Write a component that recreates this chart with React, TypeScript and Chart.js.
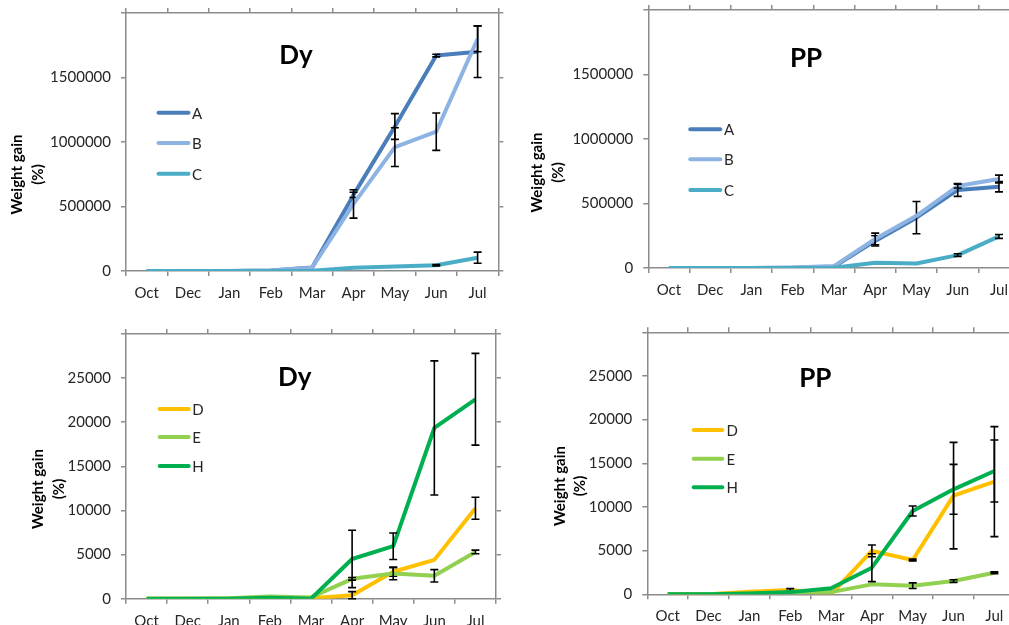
import React, { useEffect, useRef } from 'react';
import { Chart, registerables } from 'chart.js';

Chart.register(...registerables);

// ---------- data ----------
const months = ['Oct', 'Dec', 'Jan', 'Feb', 'Mar', 'Apr', 'May', 'Jun', 'Jul'];

const namesABC = ['A', 'B', 'C'];
const namesDEH = ['D', 'E', 'H'];

const ticksABC = [0, 500000, 1000000, 1500000, 2000000];
const ticksDEH = [0, 5000, 10000, 15000, 20000, 25000, 30000];

// Dy, A/B/C
const dyA = [0, 0, 0, 3000, 28000, 590000, 1120000, 1670000, 1700000];
const dyAErr = [0, 0, 0, 0, 0, 20000, 100000, 10000, 200000];
const dyB = [0, 0, 0, 3000, 25000, 520000, 960000, 1080000, 1800000];
const dyBErr = [0, 0, 0, 0, 0, 110000, 150000, 145000, 100000];
const dyC = [0, 0, 0, 0, 2000, 25000, 35000, 45000, 103000];
const dyCErr = [0, 0, 0, 0, 0, 0, 0, 5000, 43000];

// PP, A/B/C
const ppA = [0, 0, 0, 2000, 10000, 210000, 390000, 605000, 630000];
const ppAErr = [0, 0, 0, 0, 0, 40000, 125000, 50000, 40000];
const ppB = [0, 0, 0, 3000, 15000, 225000, 405000, 635000, 690000];
const ppBErr = [0, 0, 0, 0, 0, 45000, 0, 15000, 30000];
const ppC = [0, 0, 0, 0, 2000, 40000, 35000, 100000, 245000];
const ppCErr = [0, 0, 0, 0, 0, 0, 0, 10000, 15000];

// Dy, D/E/H
const dyD = [0, 0, 0, 100, 50, 400, 3050, 4400, 10250];
const dyDErr = [0, 0, 0, 0, 0, 400, 500, 0, 1250];
const dyE = [0, 0, 50, 250, 150, 2250, 2850, 2600, 5300];
const dyEErr = [0, 0, 0, 0, 0, 150, 700, 700, 200];
const dyH = [0, 0, 0, 100, 0, 4500, 5950, 19350, 22600];
const dyHErr = [0, 0, 0, 0, 0, 3250, 1500, 7600, 5200];

// PP, D/E/H
const ppD = [0, 0, 300, 500, 0, 4970, 3930, 11300, 12900];
const ppDErr = [0, 0, 0, 150, 0, 670, 100, 6100, 6300];
const ppE = [0, 0, 50, 150, 250, 1140, 990, 1520, 2470];
const ppEErr = [0, 0, 0, 0, 0, 0, 320, 150, 100];
const ppH = [0, 0, 100, 250, 690, 3050, 9540, 12020, 14120];
const ppHErr = [0, 0, 0, 0, 0, 1600, 570, 2860, 3550];

// ---------- styles ----------
const colorsABC = ['#4A7EBB', '#8DB3E2', '#4BACC6'];
const colorsDEH = ['#FFC000', '#92D050', '#00B050'];
const axisColor = '#8c8c8c';
const textColor = '#262626';
const FONT = 'Lato';

type Panel = {
  key: string;
  left: number; top: number; width: number; height: number;
  plot: { l: number; t: number; r: number; b: number };
  title: string; titleX: number; titleY: number;
  names: string[]; colors: string[];
  values: number[][]; errors: number[][];
  yTicks: number[];
  legend: { x1: number; x2: number; tx: number; ys: number[] };
  yTitle: { xs: number[]; y: number };
};

const panels: Panel[] = [
  {
    key: 'p1', left: 0, top: 0, width: 520, height: 305,
    plot: { l: 126, t: 13, r: 498.3, b: 271 },
    title: 'Dy', titleX: 296, titleY: 63.5,
    names: namesABC, colors: colorsABC,
    values: [dyA, dyB, dyC], errors: [dyAErr, dyBErr, dyCErr],
    yTicks: ticksABC,
    legend: { x1: 156.5, x2: 190.5, tx: 192, ys: [112.7, 143, 173.7] },
    yTitle: { xs: [17, 38], y: 174.5 },
  },
  {
    key: 'p2', left: 510, top: 0, width: 530, height: 305,
    plot: { l: 648.3, t: 10, r: 1019.6, b: 268 },
    title: 'PP', titleX: 806, titleY: 66.7,
    names: namesABC, colors: colorsABC,
    values: [ppA, ppB, ppC], errors: [ppAErr, ppBErr, ppCErr],
    yTicks: ticksABC,
    legend: { x1: 688.3, x2: 722.3, tx: 724, ys: [129.3, 159.3, 190] },
    yTitle: { xs: [537.5, 558.5], y: 172.5 },
  },
  {
    key: 'p3', left: 0, top: 310, width: 520, height: 330,
    plot: { l: 126, t: 334, r: 496, b: 598.7 },
    title: 'Dy', titleX: 294.7, titleY: 386,
    names: namesDEH, colors: colorsDEH,
    values: [dyD, dyE, dyH], errors: [dyDErr, dyEErr, dyHErr],
    yTicks: ticksDEH,
    legend: { x1: 157.7, x2: 190.7, tx: 192.3, ys: [409, 437, 466] },
    yTitle: { xs: [38.3, 58.8], y: 489 },
  },
  {
    key: 'p4', left: 510, top: 310, width: 530, height: 330,
    plot: { l: 647.3, t: 332.3, r: 1014.8, b: 594.3 },
    title: 'PP', titleX: 815.3, titleY: 386.7,
    names: namesDEH, colors: colorsDEH,
    values: [ppD, ppE, ppH], errors: [ppDErr, ppEErr, ppHErr],
    yTicks: ticksDEH,
    legend: { x1: 691.7, x2: 724.3, tx: 726.5, ys: [430, 458.7, 487.3] },
    yTitle: { xs: [560, 580], y: 486 },
  },
];

function decor(p: Panel) {
  return {
    id: 'decor_' + p.key,
    afterDatasetDraw(chart: any, args: any) {
      const i = args.index;
      const errs = p.errors[i];
      const vals = p.values[i];
      const meta = chart.getDatasetMeta(i);
      const ys = chart.scales.y;
      const ctx = chart.ctx;
      ctx.save();
      ctx.strokeStyle = '#000';
      ctx.lineWidth = 1.6;
      meta.data.forEach((pt: any, j: number) => {
        const e = errs[j];
        if (!e) return;
        const x = pt.x;
        const y1 = ys.getPixelForValue(vals[j] + e);
        const y2 = ys.getPixelForValue(Math.max(0, vals[j] - e));
        ctx.beginPath();
        ctx.moveTo(x, y1);
        ctx.lineTo(x, y2);
        ctx.moveTo(x - 4, y1);
        ctx.lineTo(x + 4, y1);
        ctx.moveTo(x - 4, y2);
        ctx.lineTo(x + 4, y2);
        ctx.stroke();
      });
      ctx.restore();
    },
    afterDraw(chart: any) {
      const ctx = chart.ctx;
      const ox = p.left, oy = p.top;
      ctx.save();
      // title
      ctx.fillStyle = '#000';
      ctx.font = `bold 26px ${FONT}`;
      ctx.textAlign = 'center';
      ctx.textBaseline = 'alphabetic';
      ctx.fillText(p.title, p.titleX - ox, p.titleY - oy);
      // legend
      p.names.forEach((n, i) => {
        const y = p.legend.ys[i] - oy;
        ctx.strokeStyle = p.colors[i];
        ctx.lineWidth = 4;
        ctx.lineCap = 'round';
        ctx.beginPath();
        ctx.moveTo(p.legend.x1 - ox + 2, y);
        ctx.lineTo(p.legend.x2 - ox - 2, y);
        ctx.stroke();
        ctx.fillStyle = textColor;
        ctx.font = `15px ${FONT}`;
        ctx.textAlign = 'left';
        ctx.textBaseline = 'middle';
        ctx.fillText(n, p.legend.tx - ox, y + 1);
      });
      // y axis title
      const lines = ['Weight gain', '(%)'];
      ctx.fillStyle = '#000';
      ctx.font = `bold 15px ${FONT}`;
      ctx.textAlign = 'center';
      ctx.textBaseline = 'middle';
      lines.forEach((t, i) => {
        ctx.save();
        ctx.translate(p.yTitle.xs[i] - ox, p.yTitle.y - oy);
        ctx.rotate(-Math.PI / 2);
        ctx.fillText(t, 0, 0);
        ctx.restore();
      });
      ctx.restore();
    },
  };
}

function makeChart(canvas: HTMLCanvasElement, p: Panel) {
  const yW = p.plot.l - p.left;
  const y2W = p.left + p.width - p.plot.r;
  const x2H = p.plot.t - p.top;
  const xH = p.top + p.height - p.plot.b;
  const yMax = p.yTicks[p.yTicks.length - 1];
  const gridCommon = { drawOnChartArea: false, drawTicks: true, tickLength: 5, color: axisColor, lineWidth: 1.5 };
  const border = { display: true, color: axisColor, width: 1.5 };
  const setTicks = (s: any) => { s.ticks = p.yTicks.map((v) => ({ value: v })); };
  const font = { family: FONT, size: 15 };
  const noPad = (s: any) => { s.paddingTop = 0; s.paddingBottom = 0; s.paddingLeft = 0; s.paddingRight = 0; };
  return new Chart(canvas, {
    type: 'line',
    data: {
      labels: months,
      datasets: p.names.map((n, i) => ({
        label: n,
        data: p.values[i],
        borderColor: p.colors[i],
        backgroundColor: p.colors[i],
        borderWidth: 4,
        pointRadius: 0,
        pointHoverRadius: 0,
        tension: 0,
        fill: false,
        borderJoinStyle: 'round',
        order: p.names.length - 1 - i,
        xAxisID: 'x',
        yAxisID: 'y',
      })),
    },
    options: {
      responsive: false,
      animation: false,
      events: [],
      layout: { padding: 0 },
      plugins: { legend: { display: false }, tooltip: { enabled: false }, title: { display: false } },
      scales: {
        x: {
          type: 'category', position: 'bottom', offset: true,
          grid: { ...gridCommon, offset: true }, border,
          ticks: { font, color: textColor, padding: 8, maxRotation: 0, autoSkip: false },
          afterFit: (s: any) => { s.height = xH; noPad(s); },
        },
        x2: {
          type: 'category', position: 'top', offset: true,
          grid: { ...gridCommon, offset: true }, border,
          ticks: { display: false },
          afterFit: (s: any) => { s.height = x2H; noPad(s); },
        },
        y: {
          type: 'linear', position: 'left', min: 0, max: yMax,
          afterBuildTicks: setTicks,
          grid: gridCommon, border,
          ticks: { font, color: textColor, padding: 10, callback: (v: any) => (v === yMax ? '' : String(v)) },
          afterFit: (s: any) => { s.width = yW; noPad(s); },
        },
        y2: {
          type: 'linear', position: 'right', min: 0, max: yMax,
          afterBuildTicks: setTicks,
          grid: gridCommon, border,
          ticks: { display: false },
          afterFit: (s: any) => { s.width = y2W; noPad(s); },
        },
      },
    } as any,
    plugins: [decor(p)],
  });
}

function PanelChart({ p }: { p: Panel }) {
  const ref = useRef<HTMLCanvasElement>(null);
  useEffect(() => {
    if (!ref.current) return;
    const c = makeChart(ref.current, p);
    return () => c.destroy();
  }, [p]);
  return (
    <div style={{ position: 'absolute', left: p.left, top: p.top, width: p.width, height: p.height }}>
      <canvas ref={ref} width={p.width} height={p.height} style={{ display: 'block', width: p.width, height: p.height }} />
    </div>
  );
}

export default function App() {
  return (
    <div style={{ position: 'absolute', left: 0, top: 0, width: 1009, height: 625, overflow: 'hidden', background: '#fff' }}>
      {panels.map((p) => (
        <PanelChart key={p.key} p={p} />
      ))}
    </div>
  );
}
